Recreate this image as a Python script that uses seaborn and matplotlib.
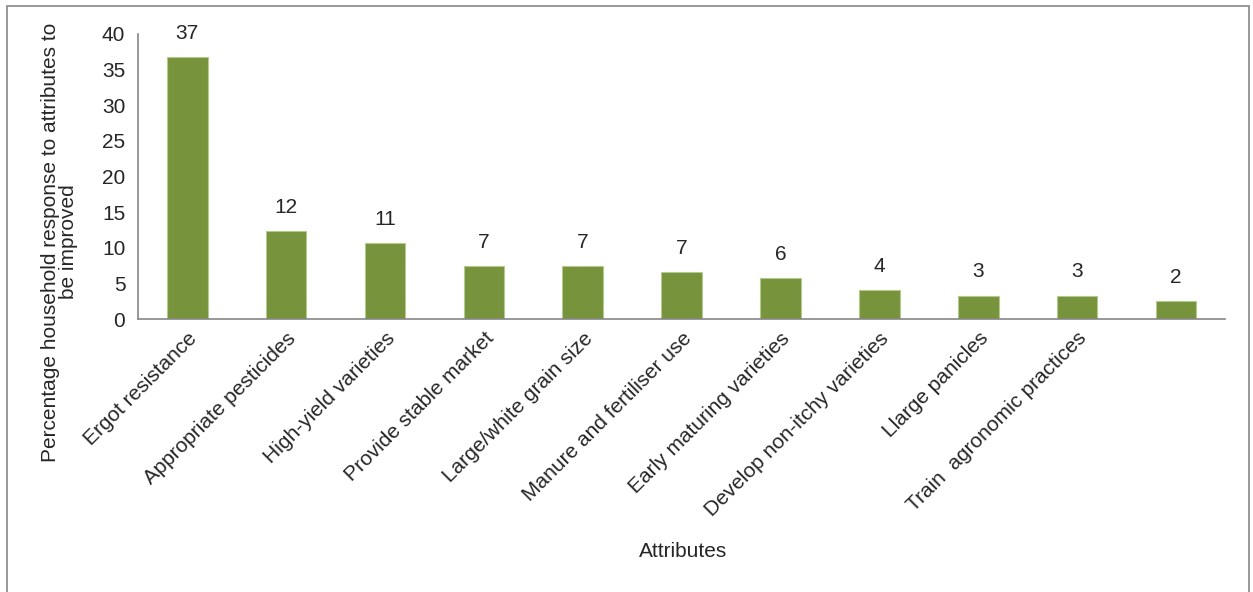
import matplotlib
matplotlib.use("Agg")
import matplotlib.pyplot as plt
import matplotlib.patches as mpatches
import numpy as np
import pandas as pd
import seaborn as sns

# values
attributes = [
    "Ergot resistance",
    "Appropriate pesticides",
    "High-yield varieties",
    "Provide stable market",
    "Large/white grain size",
    "Manure and fertiliser use",
    "Early maturing varieties",
    "Develop non-itchy varieties",
    "Llarge panicles",
    "Train  agronomic practices",
    "",
]
percent = [36.8, 12.3, 10.7, 7.4, 7.4, 6.6, 5.7, 4.1, 3.3, 3.3, 2.5]
bar_labels = ["37", "12", "11", "7", "7", "7", "6", "4", "3", "3", "2"]
y_ticks = [0, 5, 10, 15, 20, 25, 30, 35, 40]

sns.set_style("white")
plt.rcParams["font.family"] = ["Liberation Sans", "DejaVu Sans"]

df = pd.DataFrame({"Attribute": attributes, "Percent": percent})

fig = plt.figure(figsize=(12.53, 5.92), dpi=100)
ax = fig.add_axes([0.110, 0.461, 0.868, 0.4816])

sns.barplot(data=df, x="Attribute", y="Percent", color="#77933C",
            saturation=1, width=0.41, edgecolor="#B5C98F", linewidth=0.8, ax=ax)

# value labels above bars
for i, (v, lab) in enumerate(zip(percent, bar_labels)):
    ax.annotate(lab, xy=(i, v), xytext=(0, 17), textcoords="offset points",
                ha="center", va="center", fontsize=15)

ax.set_xlim(-0.5, len(attributes) - 0.5)
ax.set_ylim(0, 40)
ax.set_yticks(y_ticks)
ax.set_yticklabels([str(t) for t in y_ticks], fontsize=15)
ax.set_xticks(range(len(attributes)))
ax.set_xticklabels(attributes, rotation=45, ha="right", rotation_mode="anchor",
                   fontsize=15)
ax.tick_params(axis="x", which="major", length=0, pad=7)
ax.set_xticks(np.arange(-0.5, len(attributes), 1.0), minor=True)
ax.tick_params(axis="x", which="minor", length=5, color="#868686", width=1.2)
ax.tick_params(axis="y", length=5, color="#868686", width=1.2, pad=4)

for side in ["top", "right"]:
    ax.spines[side].set_visible(False)
for side in ["left", "bottom"]:
    ax.spines[side].set_color("#868686")
    ax.spines[side].set_linewidth(1.2)

ax.set_ylabel("Percentage household response to attributes to\nbe improved",
              fontsize=15, linespacing=0.95)
ax.yaxis.set_label_coords(-0.055, 0.27)
ax.set_xlabel("Attributes", fontsize=15)
ax.xaxis.set_label_coords(0.501, -0.782)

# outer chart frame
frame = mpatches.Rectangle((0.0056, -0.01), 0.991, 1.0, transform=fig.transFigure,
                           fill=False, edgecolor="#868686", linewidth=1.2)
fig.patches.append(frame)

fig.savefig("out.png", dpi=100)
